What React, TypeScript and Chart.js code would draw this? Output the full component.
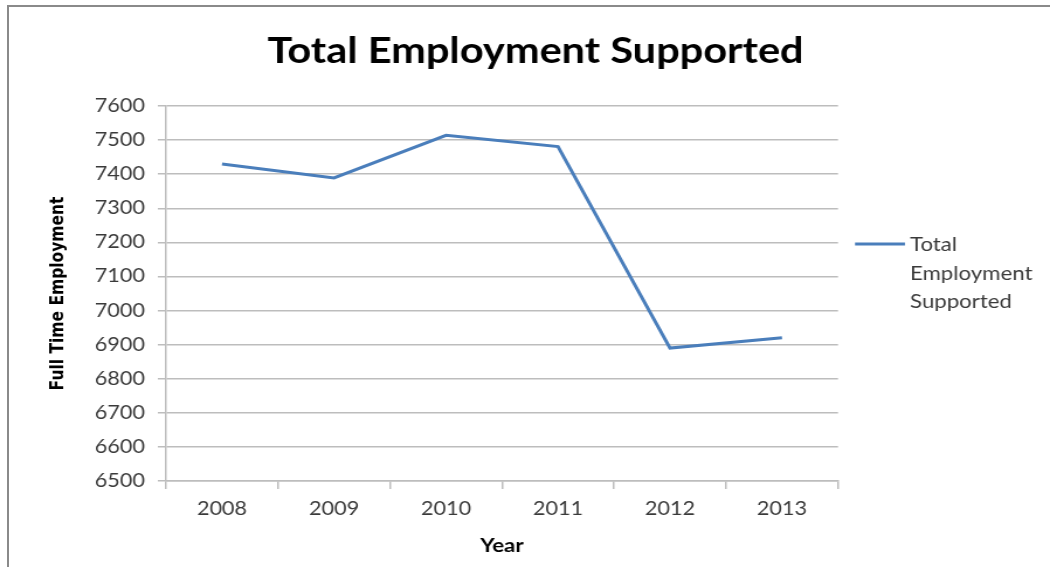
import React, { useEffect, useRef } from "react";
import { Chart, registerables } from "chart.js";

Chart.register(...registerables);

const years = ["2008", "2009", "2010", "2011", "2012", "2013"];
const employment = [7430, 7389, 7514, 7481, 6890, 6920];
const seriesLabel = "Total Employment Supported";
const chartTitle = "Total Employment Supported";
const yAxisTitle = "Full Time Employment";
const xAxisTitle = "Year";
const yMin = 6500;
const yMax = 7600;
const yStep = 100;

// the reference picture is stretched horizontally; draw narrower, then stretch
const PAGE_W = 1050;
const PAGE_H = 567;
const CANVAS_W = 898;
const STRETCH = PAGE_W / CANVAS_W;

const LINE_COLOR = "#4a7ebb";
const GRID_COLOR = "#bdbdbd";
const TEXT_COLOR = "#3a3a3a";
const FONT = "Lato, 'Open Sans', sans-serif";

const customTitle = {
  id: "customTitle",
  afterDraw(chart: any) {
    const { ctx } = chart;
    ctx.save();
    ctx.fillStyle = "#000";
    ctx.font = `bold 35.5px ${FONT}`;
    ctx.textAlign = "center";
    ctx.textBaseline = "alphabetic";
    ctx.fillText(chartTitle, 535.5 / STRETCH, 63);
    ctx.restore();
  },
};

const sideLegend = {
  id: "sideLegend",
  afterDraw(chart: any) {
    const { ctx } = chart;
    const ds = chart.data.datasets[0];
    const words = String(ds.label).split(" ");
    const x0 = 855 / STRETCH;
    const x1 = 905 / STRETCH;
    const y0 = 244;
    ctx.save();
    ctx.strokeStyle = ds.borderColor;
    ctx.lineWidth = 3;
    ctx.beginPath();
    ctx.moveTo(x0, y0);
    ctx.lineTo(x1, y0);
    ctx.stroke();
    ctx.fillStyle = TEXT_COLOR;
    ctx.font = `19px ${FONT}`;
    ctx.textBaseline = "middle";
    ctx.textAlign = "left";
    words.forEach((w: string, i: number) => {
      ctx.fillText(w, 910 / STRETCH, y0 + 1 + i * 28.5);
    });
    ctx.restore();
  },
};

export default function App() {
  const canvasRef = useRef<HTMLCanvasElement | null>(null);

  useEffect(() => {
    document.body.style.margin = "0";
    const canvas = canvasRef.current;
    if (!canvas) return;
    const chart = new Chart(canvas, {
      type: "line",
      data: {
        labels: years,
        datasets: [
          {
            label: seriesLabel,
            data: employment,
            borderColor: LINE_COLOR,
            backgroundColor: LINE_COLOR,
            borderWidth: 3,
            pointRadius: 0,
            tension: 0,
          },
        ],
      },
      plugins: [customTitle, sideLegend],
      options: {
        responsive: false,
        animation: false,
        layout: { padding: { left: 37, right: CANVAS_W - 838 / STRETCH, top: 106, bottom: 5.6 } },
        plugins: {
          legend: { display: false },
          tooltip: { enabled: false },
          title: { display: false },
        },
        scales: {
          x: {
            offset: true,
            grid: {
              offset: true,
              drawOnChartArea: false,
              drawTicks: true,
              tickLength: 8,
              color: GRID_COLOR,
              lineWidth: 1.5,
            },
            border: { color: GRID_COLOR, width: 1.5 },
            ticks: {
              color: TEXT_COLOR,
              font: { family: FONT, size: 18.5 },
              padding: 9,
              maxRotation: 0,
            },
            title: {
              display: true,
              text: xAxisTitle,
              color: "#000",
              font: { family: FONT, size: 19, weight: "bold" },
              padding: { top: 4, bottom: 4 },
            },
            afterFit: (scale: any) => {
              scale.height = 80.4;
            },
          },
          y: {
            min: yMin,
            max: yMax,
            grid: {
              color: GRID_COLOR,
              lineWidth: 1.5,
              tickLength: 7,
            },
            border: { color: GRID_COLOR, width: 1.5 },
            ticks: {
              stepSize: yStep,
              color: TEXT_COLOR,
              font: { family: FONT, size: 18.5 },
              padding: 11,
              callback: (v: any) => String(v),
            },
            title: {
              display: true,
              text: yAxisTitle,
              color: "#000",
              font: { family: "'DejaVu Sans', sans-serif", size: 15.5, weight: "bold" },
              padding: { top: 4, bottom: 4 },
            },
            afterFit: (scale: any) => {
              scale.width = 166 / STRETCH - 37;
            },
          },
        },
      },
    });
    return () => chart.destroy();
  }, []);

  return (
    <div style={{ position: "relative", width: PAGE_W, height: PAGE_H, overflow: "hidden", background: "#fff" }}>
      <div
        style={{
          position: "absolute",
          left: 0,
          top: 0,
          width: CANVAS_W,
          height: PAGE_H,
          transform: `scaleX(${STRETCH})`,
          transformOrigin: "0 0",
        }}
      >
        <canvas ref={canvasRef} width={CANVAS_W} height={PAGE_H} style={{ display: "block" }} />
      </div>
      <div
        style={{
          position: "absolute",
          left: 7,
          top: 5,
          width: 1100,
          height: 600,
          borderTop: "2px solid #8a8a8a",
          borderLeft: "2px solid #8a8a8a",
          boxSizing: "border-box",
        }}
      />
    </div>
  );
}
